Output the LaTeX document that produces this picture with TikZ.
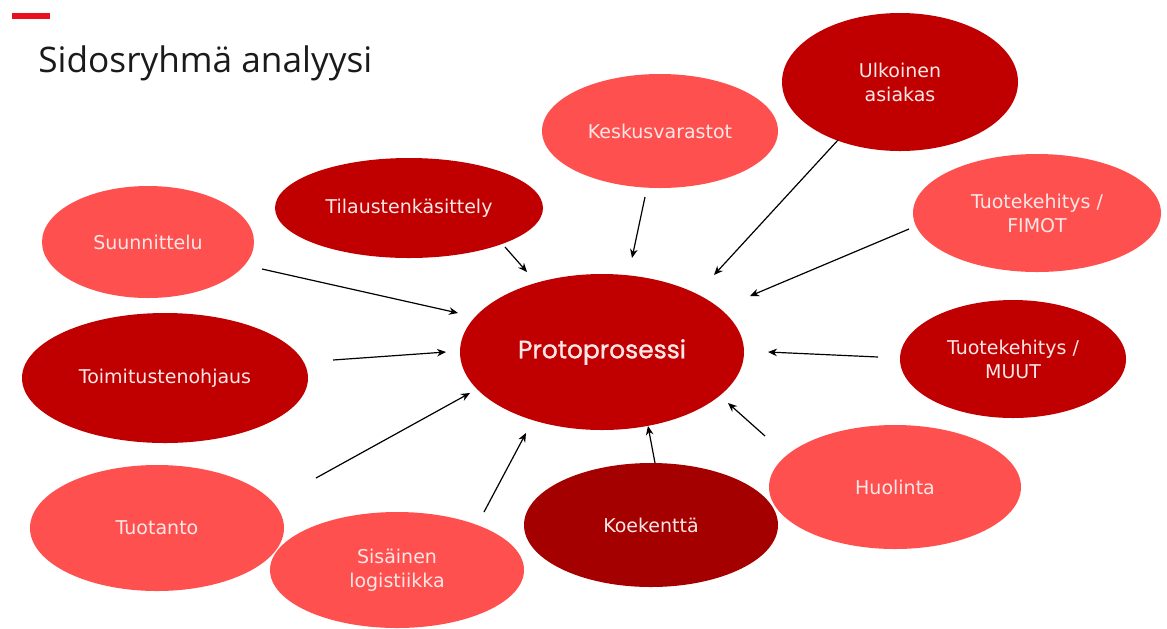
\documentclass[tikz,border=0pt]{standalone}
\usepackage{fontspec}
\setmainfont{DejaVu Sans}
\newfontfamily\titlefont{Open Sans}
\newfontfamily\hubfont{Poppins}[FakeBold=1.2]
\usetikzlibrary{shapes.geometric,arrows.meta}
\definecolor{lightred}{HTML}{FF5050}
\definecolor{midred}{HTML}{C00000}
\definecolor{deepred}{HTML}{A50000}
\definecolor{labeltext}{HTML}{FDE6E6}
\definecolor{brandred}{HTML}{E8101E}
\definecolor{titleink}{HTML}{1A1A1A}
\begin{document}
\begin{tikzpicture}[x=0.5pt,y=-0.5pt,
  bubble/.style={ellipse, inner sep=0pt, text=labeltext,
    font=\fontsize{9.5}{12}\selectfont, align=center},
  light/.style={bubble, fill=lightred},
  mid/.style={bubble, fill=midred},
  deep/.style={bubble, fill=deepred},
  feed/.style={-{Stealth[length=4.5pt,width=3.8pt]}, line width=0.6pt, black}]
\useasboundingbox (0,0) rectangle (1167,628);
\fill[white] (0,0) rectangle (1167,628);

% heading
\node[fill=brandred, minimum width=19pt, minimum height=2.6pt, inner sep=0pt,
  anchor=north west] (bar) at (12,13) {};
\node[anchor=base west, inner sep=0pt, text=titleink,
  font=\titlefont\fontsize{17.6}{22}\selectfont] (title) at (38,72) {Sidosryhmä analyysi};

% stakeholder bubbles (minimum width/height = half the size in px)
\node[mid, minimum width=142pt, minimum height=78pt,
  font=\hubfont\fontsize{12.5}{14}\selectfont, text=labeltext] (hub) at (602,352) {Protoprosessi};

\node[light, minimum width=106pt, minimum height=56pt] (suun) at (148,242) {Suunnittelu};
\node[mid, minimum width=134pt, minimum height=50pt] (tila) at (409,208) {Tilaustenkäsittely};
\node[light, minimum width=118pt, minimum height=57pt] (kesk) at (660,131) {Keskusvarastot};
\node[mid, minimum width=118pt, minimum height=69pt] (ulko) at (900,82) {Ulkoinen\\asiakas};
\node[light, minimum width=124pt, minimum height=59pt] (fimot) at (1037,213) {Tuotekehitys /\\FIMOT};
\node[mid, minimum width=143pt, minimum height=65pt] (toim) at (165,378) {Toimitustenohjaus};
\node[mid, minimum width=113pt, minimum height=59pt] (muut) at (1013,359) {Tuotekehitys /\\MUUT};
\node[light, minimum width=126pt, minimum height=62pt] (huol) at (895,487) {Huolinta};
\node[deep, minimum width=127pt, minimum height=62pt] (koek) at (651,525) {Koekenttä};
\node[light, minimum width=127pt, minimum height=63pt] (tuot) at (157,528) {Tuotanto};
\node[light, minimum width=127pt, minimum height=58pt] (sisa) at (397,570) {Sisäinen\\logistiikka};

% arrow end points
\coordinate (suun-s) at (262,269);  \coordinate (suun-e) at (458,313);
\coordinate (tila-s) at (505,247);  \coordinate (tila-e) at (527,272);
\coordinate (kesk-s) at (645,197);  \coordinate (kesk-e) at (632,258);
\coordinate (ulko-s) at (838,140);  \coordinate (ulko-e) at (714,275);
\coordinate (fimot-s) at (909,229); \coordinate (fimot-e) at (750,296);
\coordinate (toim-s) at (333,360);  \coordinate (toim-e) at (446,352);
\coordinate (muut-s) at (878,357);  \coordinate (muut-e) at (768,352);
\coordinate (tuot-s) at (316,478);  \coordinate (tuot-e) at (470,393);
\coordinate (sisa-s) at (484,512);  \coordinate (sisa-e) at (526,433);
\coordinate (koek-s) at (655,463);  \coordinate (koek-e) at (648,426);
\coordinate (huol-s) at (765,436);  \coordinate (huol-e) at (728,403);

% arrows towards the hub
\foreach \n in {suun,tila,kesk,ulko,fimot,toim,muut,tuot,sisa,koek,huol}
  \draw[feed] (\n-s) -- (\n-e);
\end{tikzpicture}
\end{document}
